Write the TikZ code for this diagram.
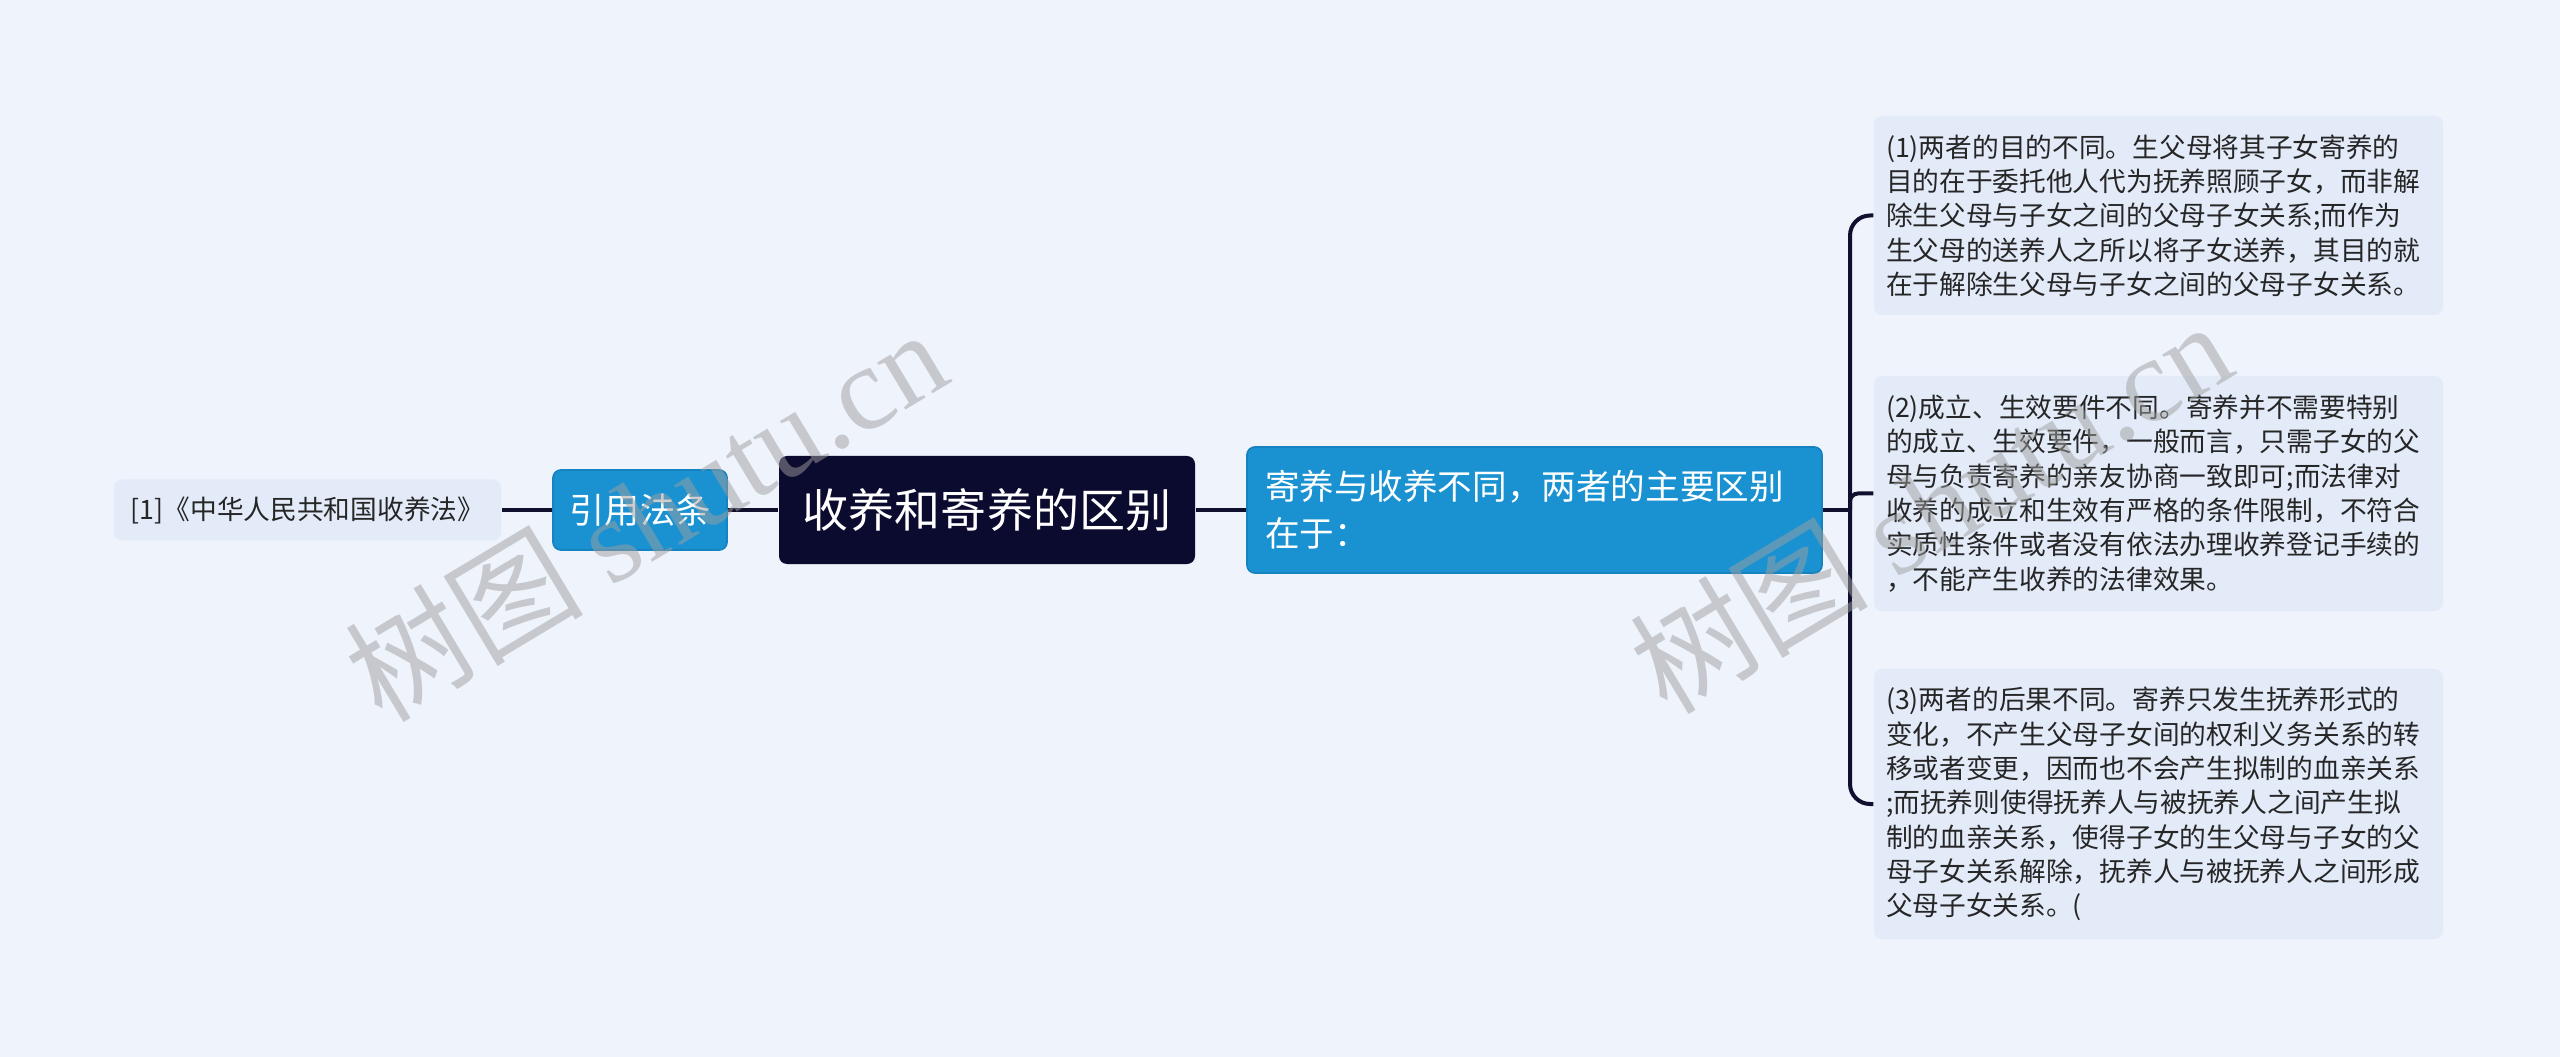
\documentclass[tikz,border=0pt]{standalone}
\usepackage{fontspec}
\setmainfont{Noto Sans CJK SC}
\newfontfamily\wmserif{Liberation Serif}
\definecolor{bgcol}{HTML}{EEF3FC}
\definecolor{leafcol}{HTML}{E3EBF9}
\definecolor{bluecol}{HTML}{1A92D2}
\definecolor{blueedge}{HTML}{1682BF}
\definecolor{rootcol}{HTML}{0B0A2F}
\definecolor{linecol}{HTML}{10102E}
\definecolor{textcol}{HTML}{262626}

\begin{document}
\begin{tikzpicture}[
        link/.style={draw=linecol,line width=0.04cm},
        leafbox/.style={rectangle,rounded corners=0.08cm,fill=leafcol,text=textcol,inner sep=0pt},
        notebox/.style={leafbox,align=left,text width=5.45cm,inner xsep=0.12cm,minimum width=5.69cm,font=\fontsize{7.6}{9.76}\selectfont},
        bluebox/.style={rectangle,rounded corners=0.08cm,fill=bluecol,draw=blueedge,line width=0.5pt,text=white,inner sep=0pt},
        rootbox/.style={rectangle,rounded corners=0.08cm,fill=rootcol,text=white,inner sep=0pt},
        wmark/.style={text=gray!75,opacity=0.5,rotate=31,font=\fontsize{34}{34}\selectfont}
    ]
        \useasboundingbox[fill=bgcol] (0,0) rectangle (25.6,-10.57);

        \node[leafbox,minimum width=3.87cm,minimum height=0.61cm,font=\fontsize{7.6}{9}\selectfont] (law) at (3.075,-5.10) {[1]《中华人民共和国收养法》};
        \node[bluebox,minimum width=1.74cm,minimum height=0.80cm,font=\fontsize{10}{12}\selectfont] (cite) at (6.40,-5.10) {引用法条};
        \node[rootbox,minimum width=4.16cm,minimum height=1.08cm,font=\fontsize{13.1}{15}\selectfont] (root) at (9.87,-5.10) {收养和寄养的区别};
        \node[bluebox,align=left,text width=5.39cm,inner xsep=0.18cm,minimum height=1.26cm,font=\fontsize{9.84}{13.4}\selectfont] (diff) at (15.345,-5.10) {寄养与收养不同，两者的主要区别\\在于：};

        \node[notebox,minimum height=1.99cm] (aim) at (21.585,-2.155) {(1)两者的目的不同。生父母将其子女寄养的\\
目的在于委托他人代为抚养照顾子女，而非解\\
除生父母与子女之间的父母子女关系;而作为\\
生父母的送养人之所以将子女送养，其目的就\\
在于解除生父母与子女之间的父母子女关系。};
        \node[notebox,minimum height=2.35cm] (cond) at (21.585,-4.935) {(2)成立、生效要件不同。寄养并不需要特别\\
的成立、生效要件，一般而言，只需子女的父\\
母与负责寄养的亲友协商一致即可;而法律对\\
收养的成立和生效有严格的条件限制，不符合\\
实质性条件或者没有依法办理收养登记手续的\\
，不能产生收养的法律效果。};
        \node[notebox,minimum height=2.70cm] (effect) at (21.585,-8.04) {(3)两者的后果不同。寄养只发生抚养形式的\\
变化，不产生父母子女间的权利义务关系的转\\
移或者变更，因而也不会产生拟制的血亲关系\\
;而抚养则使得抚养人与被抚养人之间产生拟\\
制的血亲关系，使得子女的生父母与子女的父\\
母子女关系解除，抚养人与被抚养人之间形成\\
父母子女关系。(};

        \coordinate (fork) at (18.50,-5.10);
        \draw[link] (law) -- (cite);
        \draw[link] (cite) -- (root);
        \draw[link] (root) -- (diff);
        \draw[link] (diff) -- (fork);
        \draw[link,rounded corners=0.2cm] (fork) |- (aim);
        \draw[link,rounded corners=0.08cm] (fork) |- (cond);
        \draw[link,rounded corners=0.2cm] (fork) |- (effect);

        \node[wmark] (wmleft) at (6.45,-5.14) {树图 {\wmserif shutu.cn}};
        \node[wmark] (wmright) at (19.30,-5.06) {树图 {\wmserif shutu.cn}};
    \end{tikzpicture}
\end{document}
